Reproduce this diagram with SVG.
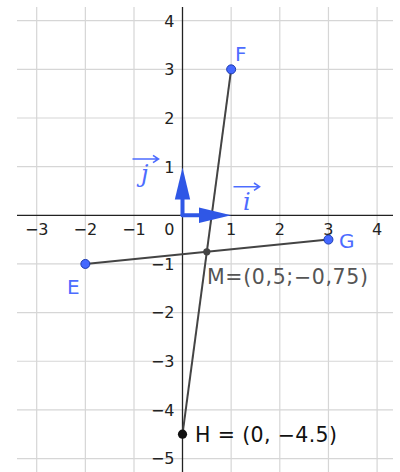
<svg xmlns="http://www.w3.org/2000/svg" width="400" height="472" viewBox="0 0 400 472">
<style>
.grid{stroke:#d6d6d6;stroke-width:1.2;fill:none}
.axis{stroke:#222;stroke-width:1.3;fill:none}
.tick{font-family:"DejaVu Sans",sans-serif;font-size:16px;fill:#222}
.tx{text-anchor:middle}
.ty{text-anchor:end}
.seg{stroke:#444;stroke-width:2;fill:none}
.vec{stroke:#2f57e6;stroke-width:4;stroke-linecap:round;fill:none}
.vhead{fill:#2f57e6}
.pt{fill:#4468ff;stroke:#1d3bb0;stroke-width:1}
.plabel{font-family:"DejaVu Sans",sans-serif;font-size:20px;fill:#4d6cff}
.vlabel{font-family:"DejaVu Serif",serif;font-style:italic;font-size:24px;fill:#4d6cff}
.over{stroke:#4d6cff;stroke-width:1.6;fill:none}
.coord{font-family:"DejaVu Sans",sans-serif;font-size:20.5px}
</style>
<rect width="400" height="472" fill="#fff"/>
<g id="grid">
<path class="grid" d="M36.7 7V472M85.35 7V472M134 7V472M231.15 7V472M279.8 7V472M328.45 7V472M377.1 7V472"/>
<path class="grid" d="M17 20.7H393M17 69.35H393M17 118H393M17 166.65H393M17 263.95H393M17 312.6H393M17 361.25H393M17 409.9H393M17 458.55H393"/>
</g>
<g id="axes">
<path class="axis" d="M17 215.3H393M182.5 7V472"/>
<text class="tick tx" x="36.7" y="235">−3</text>
<text class="tick tx" x="85.35" y="235">−2</text>
<text class="tick tx" x="134" y="235">−1</text>
<text class="tick ty" x="174.5" y="235">0</text>
<text class="tick tx" x="231.15" y="235">1</text>
<text class="tick tx" x="279.8" y="235">2</text>
<text class="tick tx" x="328.45" y="235">3</text>
<text class="tick tx" x="377.1" y="235">4</text>
<text class="tick ty" x="174.5" y="26.5">4</text>
<text class="tick ty" x="174.5" y="75.2">3</text>
<text class="tick ty" x="174.5" y="123.8">2</text>
<text class="tick ty" x="174.5" y="172.5">1</text>
<text class="tick ty" x="174.5" y="269.8">−1</text>
<text class="tick ty" x="174.5" y="318.4">−2</text>
<text class="tick ty" x="174.5" y="367.1">−3</text>
<text class="tick ty" x="174.5" y="415.7">−4</text>
<text class="tick ty" x="174.5" y="464.4">−5</text>
</g>
<g id="connectors">
<path class="seg" d="M231.15 69.35L182.5 434.2"/>
<path class="seg" d="M85.35 263.95L328.45 239.6"/>
</g>
<g id="vector-i">
<path class="vec" d="M182.5 215.3H201"/>
<polygon class="vhead" points="199,207.6 199,223 231.15,215.3"/>
<path class="over" d="M233.5 186.7H259M254 183L259.5 186.7L254 190.4"/>
<text class="vlabel" x="243" y="210">i</text>
</g>
<g id="vector-j">
<path class="vec" d="M182.5 215.3V198"/>
<polygon class="vhead" points="174.8,199.5 190.2,199.5 182.5,167.5"/>
<path class="over" d="M132.5 159H158M153 155.3L158.5 159L153 162.7"/>
<text class="vlabel" x="141" y="182">j</text>
</g>
<g id="F">
<circle class="pt" cx="231.15" cy="69.35" r="4.5"/>
<text class="plabel" x="235" y="60.5">F</text>
</g>
<g id="E">
<circle class="pt" cx="85.35" cy="263.95" r="4.5"/>
<text class="plabel" x="67" y="294">E</text>
</g>
<g id="G">
<circle class="pt" cx="328.45" cy="239.6" r="4.5"/>
<text class="plabel" x="339" y="248">G</text>
</g>
<g id="M">
<circle cx="206.8" cy="251.8" r="3.6" fill="#444"/>
<text class="coord" x="207" y="284" fill="#555" textLength="161" lengthAdjust="spacing">M=(0,5;−0,75)</text>
</g>
<g id="H">
<circle cx="182.5" cy="434.2" r="4.6" fill="#111"/>
<text class="coord" x="195" y="441.5" fill="#111" textLength="142" lengthAdjust="spacing">H = (0, −4.5)</text>
</g>
</svg>
